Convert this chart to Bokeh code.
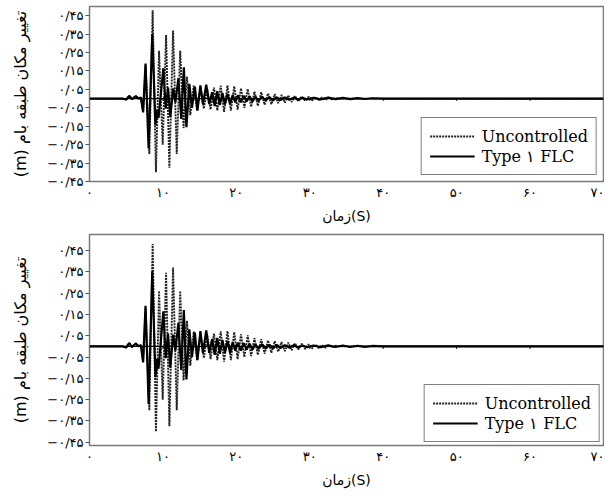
from bokeh.plotting import figure
from bokeh.models import Range1d, FixedTicker, Legend, LegendItem, Span
from bokeh.layouts import column
from bokeh.embed import file_html
from bokeh.resources import INLINE

# ---- data ----
t_unc = [0, 4.5, 5.0, 5.4, 5.8, 6.3, 6.7, 7.0,
         7.3, 7.65, 8.15, 8.6, 9.05, 9.47, 9.97, 10.43, 10.88, 11.38, 11.88, 12.35,
         12.81, 13.27, 13.73, 14.19, 14.65, 15.11, 15.57, 16.03, 16.49, 16.95,
         17.41, 17.87, 18.33, 18.79, 19.25, 19.71, 20.17, 20.63, 21.09, 21.55,
         22.01, 22.47, 22.93, 23.39, 23.85, 24.31, 24.77, 25.23, 25.69, 26.15,
         26.61, 27.07, 27.53, 27.99, 28.45, 28.91, 29.37, 29.83, 30.29, 30.75,
         31.21, 31.67, 32.13, 32.59, 33.05, 33.51, 34.0, 70]
d_unc = [0, 0, -0.005, 0.015, -0.003, 0.014, 0.0, 0.006,
         -0.07, 0.18, -0.30, 0.48, -0.40, 0.26, -0.25, 0.345, -0.375, 0.37, -0.30, 0.26,
         -0.16, 0.12, -0.09, 0.07, -0.065, 0.06, -0.055, 0.055, -0.06, 0.06,
         -0.065, 0.07, -0.072, 0.072, -0.065, 0.067, -0.06, 0.056, -0.05, 0.052,
         -0.045, 0.038, -0.04, 0.034, -0.034, 0.028, -0.03, 0.024, -0.025, 0.02,
         -0.022, 0.018, -0.018, 0.015, -0.015, 0.012, -0.012, 0.01, -0.01, 0.008,
         -0.008, 0.006, -0.006, 0.005, -0.004, 0.003, 0, 0]

t_flc = [0, 4.5, 5.0, 5.4, 5.8, 6.3, 6.7, 7.0,
         7.3, 7.63, 8.05, 8.55, 8.98, 9.2, 9.4, 10.06, 10.38, 10.7,
         11.0, 11.4, 11.7, 12.1, 12.5, 12.85, 13.2, 13.6, 13.95, 14.35,
         14.7, 15.1, 15.45, 15.9, 16.3, 16.7, 17.05, 17.4, 17.75, 18.1,
         18.45, 18.8, 19.15, 19.5, 19.85, 20.2, 20.6, 21.0, 21.4, 21.8,
         22.2, 22.6, 23.0, 23.5, 24.0, 24.5, 25.0, 25.5, 26.0, 26.6,
         27.2, 27.8, 28.4, 29.0, 29.6, 30.5, 31.5, 32.5, 33.5, 34.5,
         35.5, 36.5, 37.5, 38.5, 40, 70]
d_flc = [0, 0, -0.005, 0.015, -0.003, 0.014, 0.0, 0.006,
         -0.075, 0.19, -0.27, 0.35, -0.145, -0.06, -0.105, 0.165, -0.055, 0.06,
         -0.1, 0.055, -0.02, 0.11, -0.11, 0.17, -0.155, 0.08, -0.05, 0.065,
         -0.065, 0.072, -0.03, 0.075, -0.03, 0.035, -0.04, 0.04, -0.035, 0.03,
         -0.03, 0.025, -0.03, 0.02, -0.02, 0.018, -0.02, 0.015, -0.015, 0.012,
         -0.015, 0.01, -0.012, 0.01, -0.01, 0.008, -0.01, 0.007, -0.008, 0.006,
         -0.006, 0.005, -0.005, 0.004, -0.004, 0.004, -0.004, 0.005, -0.003, 0.004,
         -0.003, 0.003, -0.002, 0.002, 0, 0]

x_ticks = [0, 10, 20, 30, 40, 50, 60, 70]
x_tick_labels = ["۰", "۱۰", "۲۰", "۳۰", "۴۰", "۵۰", "۶۰", "۷۰"]
y_ticks = [0.45, 0.35, 0.25, 0.15, 0.05, -0.05, -0.15, -0.25, -0.35, -0.45]
y_tick_labels = ["۰/۴۵", "۰/۳۵", "۰/۲۵", "۰/۱۵", "۰/۰۵",
                 "−۰/۰۵", "−۰/۱۵", "−۰/۲۵", "−۰/۳۵", "−۰/۴۵"]
x_title = "زمان(S)"
y_title = "(m) تغییر مکان طبقه بام"
series_names = ["Uncontrolled", "Type ۱ FLC"]

FA_FONT = "DejaVu Sans"


def make_panel(height, top, bottom, y0, y1, leg_margin):
    p = figure(width=604, height=height, output_backend="svg", toolbar_location=None,
               x_range=Range1d(0, 70), y_range=Range1d(y0, y1),
               min_border_left=89, min_border_right=1,
               min_border_top=top, min_border_bottom=bottom)
    p.background_fill_color = "white"
    p.border_fill_color = "white"
    p.outline_line_color = "#7a7a7a"
    p.outline_line_width = 1.5
    p.xgrid.visible = False
    p.ygrid.visible = False

    # zero line with small ticks
    p.add_layout(Span(location=0, dimension="width", line_color="black", line_width=1.2))
    p.segment(x0=x_ticks[1:-1], x1=x_ticks[1:-1], y0=[0] * 6, y1=[-0.012] * 6,
              line_color="black", line_width=1)

    r_unc = p.line(t_unc, d_unc, line_color="#222222", line_width=1.9, line_dash="2 1")
    r_flc = p.line(t_flc, d_flc, line_color="black", line_width=2.2)

    xa = p.xaxis[0]
    xa.ticker = FixedTicker(ticks=x_ticks)
    xa.major_label_overrides = {k: v for k, v in zip(x_ticks, x_tick_labels)}
    xa.major_tick_out = 0
    xa.major_tick_in = 0
    xa.minor_tick_out = 0
    xa.minor_tick_in = 0
    xa.axis_line_color = "#7a7a7a"
    xa.major_label_text_font = FA_FONT
    xa.major_label_text_font_size = "13px"
    xa.major_label_text_color = "black"
    xa.major_label_standoff = 3
    xa.axis_label = x_title
    xa.axis_label_text_font = FA_FONT
    xa.axis_label_text_font_size = "14px"
    xa.axis_label_text_font_style = "normal"
    xa.axis_label_text_color = "black"
    xa.axis_label_standoff = 5

    ya = p.yaxis[0]
    ya.ticker = FixedTicker(ticks=y_ticks)
    ya.major_label_overrides = {k: v for k, v in zip(y_ticks, y_tick_labels)}
    ya.major_tick_out = 4
    ya.major_tick_in = 0
    ya.minor_tick_out = 0
    ya.minor_tick_in = 0
    ya.axis_line_color = "#7a7a7a"
    ya.major_tick_line_color = "#555555"
    ya.major_label_text_font = FA_FONT
    ya.major_label_text_font_size = "13px"
    ya.major_label_text_color = "black"
    ya.major_label_standoff = 2
    ya.axis_label = y_title
    ya.axis_label_text_font = FA_FONT
    ya.axis_label_text_font_size = "16px"
    ya.axis_label_text_font_style = "normal"
    ya.axis_label_text_color = "black"
    ya.axis_label_standoff = 14

    legend = Legend(items=[LegendItem(label=series_names[0], renderers=[r_unc]),
                           LegendItem(label=series_names[1], renderers=[r_flc])],
                    location="bottom_right", margin=leg_margin, padding=8, spacing=0,
                    glyph_width=45, label_standoff=7,
                    label_text_font="DejaVu Serif", label_text_font_size="16px",
                    label_text_color="black",
                    border_line_color="black", border_line_width=1,
                    background_fill_color="white", background_fill_alpha=1)
    p.add_layout(legend)
    return p


p1 = make_panel(226, 6, 45, -0.45, 0.5, 6)
p2 = make_panel(264, 8, 45, -0.465, 0.525, 3)

layout = column(p1, p2)
open("out.html", "w").write(file_html(layout, INLINE))
